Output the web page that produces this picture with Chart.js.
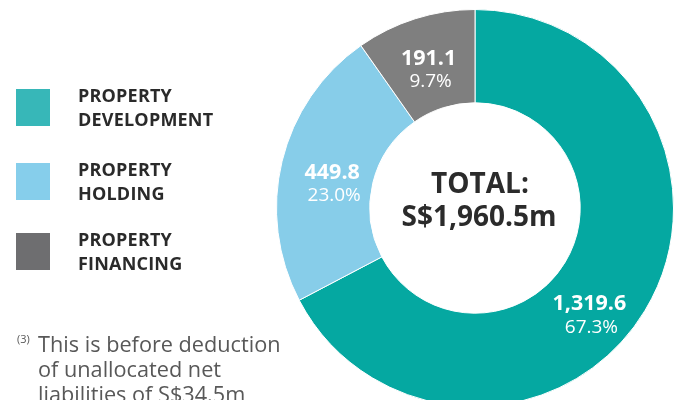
<!DOCTYPE html>
<html>
<head>
<meta charset="utf-8">
<script src="https://cdn.jsdelivr.net/npm/chart.js@4/dist/chart.umd.min.js"></script>
<style>
  html, body { margin: 0; padding: 0; background: #fff; }
  body { width: 683px; height: 400px; overflow: hidden; position: relative; font-family: "Open Sans", sans-serif; }
  #grafica { position: absolute; left: 276px; top: 9px; }
  .leyenda { position: absolute; left: 16px; }
  .leyenda .caja { position: absolute; left: 0; top: 0; width: 34px; height: 37px; }
  .leyenda .texto { position: absolute; left: 62px; top: -5px; width: 200px; font-weight: 700; font-size: 18px; line-height: 23.5px; letter-spacing: 0.2px; color: #2a2a2a; white-space: nowrap; }
  #nota { position: absolute; left: 17px; top: 331px; font-size: 21.7px; line-height: 25px; color: #585858; white-space: nowrap; }
  #nota sup { font-size: 11px; position: absolute; left: 0; top: 2px; line-height: 12px; }
  #nota div { margin-left: 21px; }
</style>
</head>
<body>
<canvas id="grafica" width="398" height="398"></canvas>
<div id="leyendas"></div>
<div id="nota"><sup>(3)</sup><div>This is before deduction<br>of unallocated net<br>liabilities of S$34.5m</div></div>
<script>
// 📊 Datos del gráfico
const segmentos = ["PROPERTY DEVELOPMENT", "PROPERTY HOLDING", "PROPERTY FINANCING"];
const lineasLeyenda = [["PROPERTY", "DEVELOPMENT"], ["PROPERTY", "HOLDING"], ["PROPERTY", "FINANCING"]];
const valores = [1319.6, 449.8, 191.1];
const etiquetasValor = ["1,319.6", "449.8", "191.1"];
const etiquetasPorcentaje = ["67.3%", "23.0%", "9.7%"];
const totalTexto = ["TOTAL:", "S$1,960.5m"];

const coloresSegmento = ["#05a8a1", "#87cde9", "#7f7f7f"];
const coloresLeyenda = ["#37b7b8", "#86ceeb", "#6e6e70"];
const topLeyenda = [89, 163, 233];

// 🧩 Leyenda en HTML
const contLeyenda = document.getElementById("leyendas");
segmentos.forEach((s, i) => {
  const d = document.createElement("div");
  d.className = "leyenda";
  d.style.top = topLeyenda[i] + "px";
  d.innerHTML = `<div class="caja" style="background:${coloresLeyenda[i]}"></div>` +
    `<div class="texto">${lineasLeyenda[i].join("<br>")}</div>`;
  contLeyenda.appendChild(d);
});

// 🔧 Ajustes de posición de las etiquetas (grados / px)
const giroEtiqueta = [12, -4, -1];
const radioExtra = [5, -7, -6];

const pluginEtiquetas = {
  id: "etiquetas",
  afterDatasetsDraw(chart) {
    const ctx = chart.ctx;
    const arcos = chart.getDatasetMeta(0).data;
    ctx.save();
    ctx.textAlign = "center";
    ctx.textBaseline = "middle";
    arcos.forEach((arco, i) => {
      const p = arco.getProps(["x", "y", "startAngle", "endAngle", "innerRadius", "outerRadius"], true);
      const ang = (p.startAngle + p.endAngle) / 2 + giroEtiqueta[i] * Math.PI / 180;
      const r = (p.innerRadius + p.outerRadius) / 2 + radioExtra[i];
      const cx = p.x + Math.cos(ang) * r;
      const cy = p.y + Math.sin(ang) * r;
      ctx.fillStyle = "#ffffff";
      ctx.font = "bold 21.5px 'Open Sans'";
      ctx.fillText(etiquetasValor[i], cx, cy - 11);
      ctx.font = "19px 'Open Sans'";
      ctx.fillText(etiquetasPorcentaje[i], cx + 2, cy + 12);
    });
    // Texto central
    const c = arcos[0];
    ctx.fillStyle = "#2b2b2b";
    ctx.font = "bold 28px 'Open Sans'";
    ctx.fillText(totalTexto[0], c.x + 5, c.y - 23);
    ctx.fillText(totalTexto[1], c.x + 4, c.y + 10);
    ctx.restore();
  }
};

new Chart(document.getElementById("grafica"), {
  type: "doughnut",
  data: {
    labels: segmentos,
    datasets: [{
      data: valores,
      backgroundColor: coloresSegmento,
      borderColor: "#ffffff",
      borderWidth: 1
    }]
  },
  options: {
    responsive: false,
    animation: false,
    cutout: "53%",
    layout: { padding: 0 },
    plugins: {
      legend: { display: false },
      tooltip: { enabled: false }
    }
  },
  plugins: [pluginEtiquetas]
});
</script>
</body>
</html>
